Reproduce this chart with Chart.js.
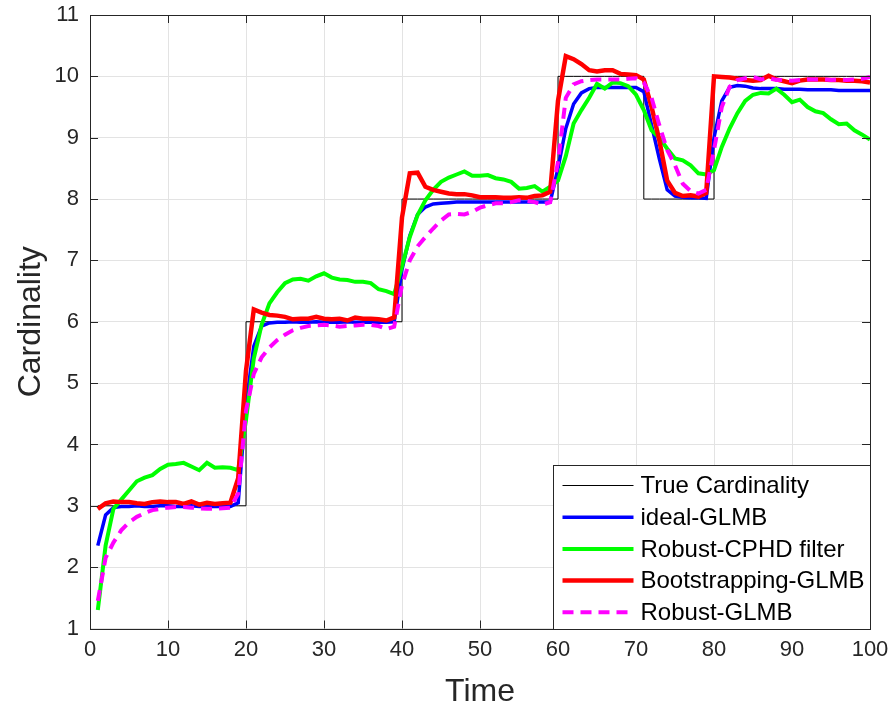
<!DOCTYPE html>
<html>
<head>
<meta charset="utf-8">
<title>Cardinality</title>
<script src="https://cdn.jsdelivr.net/npm/chart.js@4.4.1/dist/chart.umd.min.js"></script>
<style>
  html, body { margin: 0; padding: 0; background: #fff; }
  #wrap { width: 893px; height: 711px; }
</style>
</head>
<body>
<div id="wrap"><canvas id="card" width="893" height="711"></canvas></div>
<script>
// time steps 1..100
const times = [
  1, 2, 3, 4, 5, 6, 7, 8, 9, 10, 11, 12, 13, 14, 15, 16, 17, 18, 19, 20,
  21, 22, 23, 24, 25, 26, 27, 28, 29, 30, 31, 32, 33, 34, 35, 36, 37, 38, 39, 40,
  41, 42, 43, 44, 45, 46, 47, 48, 49, 50, 51, 52, 53, 54, 55, 56, 57, 58, 59, 60,
  61, 62, 63, 64, 65, 66, 67, 68, 69, 70, 71, 72, 73, 74, 75, 76, 77, 78, 79, 80,
  81, 82, 83, 84, 85, 86, 87, 88, 89, 90, 91, 92, 93, 94, 95, 96, 97, 98, 99, 100
];

const trueCard = [
  3, 3, 3, 3, 3, 3, 3, 3, 3, 3, 3, 3, 3, 3, 3, 3, 3, 3, 3, 6,
  6, 6, 6, 6, 6, 6, 6, 6, 6, 6, 6, 6, 6, 6, 6, 6, 6, 6, 6, 8,
  8, 8, 8, 8, 8, 8, 8, 8, 8, 8, 8, 8, 8, 8, 8, 8, 8, 8, 8, 10,
  10, 10, 10, 10, 10, 10, 10, 10, 10, 10, 8, 8, 8, 8, 8, 8, 8, 8, 8, 10,
  10, 10, 10, 10, 10, 10, 10, 10, 10, 10, 10, 10, 10, 10, 10, 10, 10, 10, 10, 10
];

const idealGlmb = [
  2.35, 2.85, 2.97, 2.99, 2.99, 3.0, 2.99, 2.99, 3.0, 3.0, 2.99, 2.99, 3.0, 2.99, 2.99, 2.99, 2.99, 2.99, 3.05, 4.65,
  5.6, 5.93, 5.98, 5.99, 5.99, 6.0, 5.99, 5.99, 6.0, 5.99, 5.99, 5.99, 6.0, 5.99, 5.99, 5.99, 5.99, 5.99, 6.0, 6.85,
  7.4, 7.75, 7.87, 7.92, 7.93, 7.94, 7.95, 7.95, 7.95, 7.95, 7.95, 7.95, 7.95, 7.95, 7.95, 7.95, 7.95, 7.95, 7.95, 8.5,
  9.15, 9.55, 9.73, 9.8, 9.82, 9.82, 9.82, 9.82, 9.82, 9.82, 9.75, 9.2, 8.65, 8.15, 8.05, 8.03, 8.02, 8.02, 8.01, 9.0,
  9.6, 9.82, 9.85, 9.84, 9.81, 9.8, 9.8, 9.8, 9.79, 9.79, 9.79, 9.78, 9.78, 9.78, 9.78, 9.77, 9.77, 9.77, 9.77, 9.77
];

const robustCphd = [
  1.3, 2.35, 2.95, 3.1, 3.25, 3.4, 3.46, 3.5, 3.6, 3.67, 3.68, 3.7, 3.64, 3.58, 3.7, 3.62, 3.63, 3.62, 3.58, 4.4,
  5.4, 5.95, 6.3, 6.48, 6.63, 6.69, 6.7, 6.67, 6.74, 6.79, 6.72, 6.69, 6.68, 6.65, 6.65, 6.63, 6.53, 6.5, 6.45, 6.9,
  7.38, 7.74, 7.98, 8.15, 8.28, 8.35, 8.4, 8.45, 8.38, 8.38, 8.39, 8.34, 8.32, 8.28, 8.17, 8.18, 8.21, 8.12, 8.2, 8.3,
  8.7, 9.23, 9.45, 9.65, 9.88, 9.8, 9.9, 9.89, 9.84, 9.7, 9.45, 9.12, 9.0, 8.82, 8.66, 8.63, 8.55, 8.42, 8.4, 8.47,
  8.85, 9.15, 9.4, 9.6, 9.7, 9.73, 9.72, 9.8, 9.7, 9.58, 9.62, 9.5, 9.43, 9.4, 9.3, 9.22, 9.23, 9.12, 9.05, 8.97
];

const bootstrapGlmb = [
  2.95, 3.04, 3.07, 3.06, 3.06, 3.04, 3.03, 3.06, 3.07, 3.06, 3.06, 3.03, 3.07, 3.02, 3.05, 3.03, 3.04, 3.05, 3.45, 5.2,
  6.2, 6.15, 6.11, 6.1, 6.08, 6.04, 6.05, 6.05, 6.08, 6.05, 6.04, 6.05, 6.02, 6.07, 6.05, 6.05, 6.04, 6.02, 6.07, 7.7,
  8.42, 8.43, 8.2, 8.15, 8.12, 8.09, 8.08, 8.08, 8.06, 8.03, 8.03, 8.03, 8.02, 8.02, 8.03, 8.02, 8.05, 8.06, 8.12, 9.6,
  10.33, 10.28, 10.2, 10.1, 10.08, 10.1, 10.1, 10.04, 10.03, 10.02, 9.95, 9.5, 8.95, 8.3, 8.1, 8.05, 8.06, 8.04, 8.1, 10.0,
  9.99, 9.98, 9.96, 9.94, 9.93, 9.94, 10.01, 9.95, 9.92, 9.89, 9.93, 9.95, 9.95, 9.95, 9.94, 9.94, 9.93, 9.93, 9.92, 9.9
];

const robustGlmb = [
  1.45, 2.15, 2.4, 2.6, 2.73, 2.82, 2.88, 2.93, 2.95, 2.97, 2.98, 2.98, 2.97, 2.96, 2.95, 2.95, 2.96, 2.97, 3.2, 4.55,
  5.15, 5.42, 5.58, 5.7, 5.79, 5.86, 5.9, 5.93, 5.94, 5.95, 5.94, 5.92, 5.93, 5.94, 5.95, 5.95, 5.93, 5.88, 5.92, 6.6,
  7.0, 7.23, 7.38, 7.52, 7.65, 7.75, 7.76, 7.75, 7.79, 7.86, 7.9, 7.93, 7.93, 7.95, 7.98, 7.97, 7.95, 7.91, 7.95, 8.6,
  9.65, 9.87, 9.92, 9.94, 9.95, 9.95, 9.95, 9.95, 9.96, 9.97, 9.9, 9.65, 9.2, 8.8, 8.55, 8.25, 8.13, 8.09, 8.15, 8.8,
  9.5, 9.83, 9.94, 9.97, 9.99, 9.95, 9.97, 9.94, 9.94, 9.93, 9.94, 9.95, 9.95, 9.95, 9.94, 9.95, 9.94, 9.95, 9.96, 9.99
];

const xTicks = [0, 10, 20, 30, 40, 50, 60, 70, 80, 90, 100];
const yTicks = [1, 2, 3, 4, 5, 6, 7, 8, 9, 10, 11];

const FONT = '"Liberation Sans", Arial, Helvetica, sans-serif';
const AXIS_COLOR = '#262626';
const GRID_COLOR = '#e3e3e3';

// box, inward ticks and the legend panel (drawn on top of the lines)
const boxAndLegend = {
  id: 'boxAndLegend',
  afterDatasetsDraw(chart) {
    const { ctx, chartArea: a, scales: { x, y } } = chart;
    const tick = 8;
    ctx.save();
    ctx.strokeStyle = AXIS_COLOR;
    ctx.lineWidth = 1;
    ctx.beginPath();
    x.ticks.forEach(t => {
      const px = Math.round(x.getPixelForValue(t.value)) + 0.5;
      ctx.moveTo(px, a.bottom); ctx.lineTo(px, a.bottom - tick);
      ctx.moveTo(px, a.top); ctx.lineTo(px, a.top + tick);
    });
    y.ticks.forEach(t => {
      const py = Math.round(y.getPixelForValue(t.value)) + 0.5;
      ctx.moveTo(a.left, py); ctx.lineTo(a.left + tick, py);
      ctx.moveTo(a.right, py); ctx.lineTo(a.right - tick, py);
    });
    ctx.stroke();
    ctx.strokeRect(Math.round(a.left) + 0.5, Math.round(a.top) + 0.5,
      Math.round(a.right - a.left), Math.round(a.bottom - a.top));

    // legend
    const lx = Math.round(a.right - 317) + 0.5;
    const ly = Math.round(a.bottom - 164) + 0.5;
    const lw = Math.round(a.right) + 0.5 - lx;
    const lh = Math.round(a.bottom) + 0.5 - ly;
    ctx.fillStyle = '#fff';
    ctx.fillRect(lx, ly, lw, lh);
    ctx.strokeRect(lx, ly, lw, lh);
    ctx.font = '24px ' + FONT;
    ctx.textBaseline = 'middle';
    ctx.textAlign = 'left';
    chart.data.datasets.forEach((ds, i) => {
      const rowY = ly + 20 + i * 31.7;
      ctx.beginPath();
      ctx.strokeStyle = ds.borderColor;
      ctx.lineWidth = ds.borderWidth;
      ctx.setLineDash(ds.borderDash || []);
      ctx.moveTo(lx + 9, rowY);
      ctx.lineTo(lx + 80, rowY);
      ctx.stroke();
      ctx.setLineDash([]);
      ctx.fillStyle = '#000';
      ctx.fillText(ds.label, lx + 87, rowY + 1);
    });
    ctx.restore();
  }
};

// keep the plot box fixed: no extra room for edge tick labels
const noEdgePadding = s => {
  s.paddingLeft = 0; s.paddingRight = 0; s.paddingTop = 0; s.paddingBottom = 0;
};

const line = (label, data, color, width, order, extra) => Object.assign({
  label, data,
  borderColor: color,
  backgroundColor: color,
  borderWidth: width,
  pointRadius: 0,
  fill: false,
  tension: 0,
  order
}, extra || {});

new Chart(document.getElementById('card'), {
  type: 'line',
  data: {
    labels: times,
    datasets: [
      line('True Cardinality', trueCard, '#000000', 1, 4, { stepped: 'before' }),
      line('ideal-GLMB', idealGlmb, '#0000ff', 3.5, 3),
      line('Robust-CPHD filter', robustCphd, '#00ff00', 4, 2),
      line('Bootstrapping-GLMB', bootstrapGlmb, '#ff0000', 4.5, 1),
      line('Robust-GLMB', robustGlmb, '#ff00ff', 4, 0, { borderDash: [11, 7] })
    ]
  },
  options: {
    responsive: false,
    animation: false,
    layout: { padding: { top: 15, right: 23, left: 0, bottom: 0 } },
    plugins: {
      legend: { display: false },
      tooltip: { enabled: false }
    },
    scales: {
      x: {
        type: 'linear',
        min: 0,
        max: 100,
        afterBuildTicks: s => { s.ticks = xTicks.map(v => ({ value: v })); },
        afterFit: s => { s.height = 82.5; noEdgePadding(s); },
        grid: { color: GRID_COLOR, drawTicks: false },
        border: { display: false },
        ticks: { color: AXIS_COLOR, font: { family: FONT, size: 22 }, padding: 8, maxRotation: 0 },
        title: {
          display: true, text: 'Time', color: AXIS_COLOR,
          font: { family: FONT, size: 32 }, padding: { top: 1, bottom: 0 }
        }
      },
      y: {
        min: 1,
        max: 11,
        afterBuildTicks: s => { s.ticks = yTicks.map(v => ({ value: v })); },
        afterFit: s => { s.width = 90; noEdgePadding(s); },
        grid: { color: GRID_COLOR, drawTicks: false },
        border: { display: false },
        ticks: { color: AXIS_COLOR, font: { family: FONT, size: 22 }, padding: 11 },
        title: {
          display: true, text: 'Cardinality', color: AXIS_COLOR,
          font: { family: FONT, size: 32 }, padding: { top: 12, bottom: 0 }
        }
      }
    }
  },
  plugins: [boxAndLegend]
});
</script>
</body>
</html>
